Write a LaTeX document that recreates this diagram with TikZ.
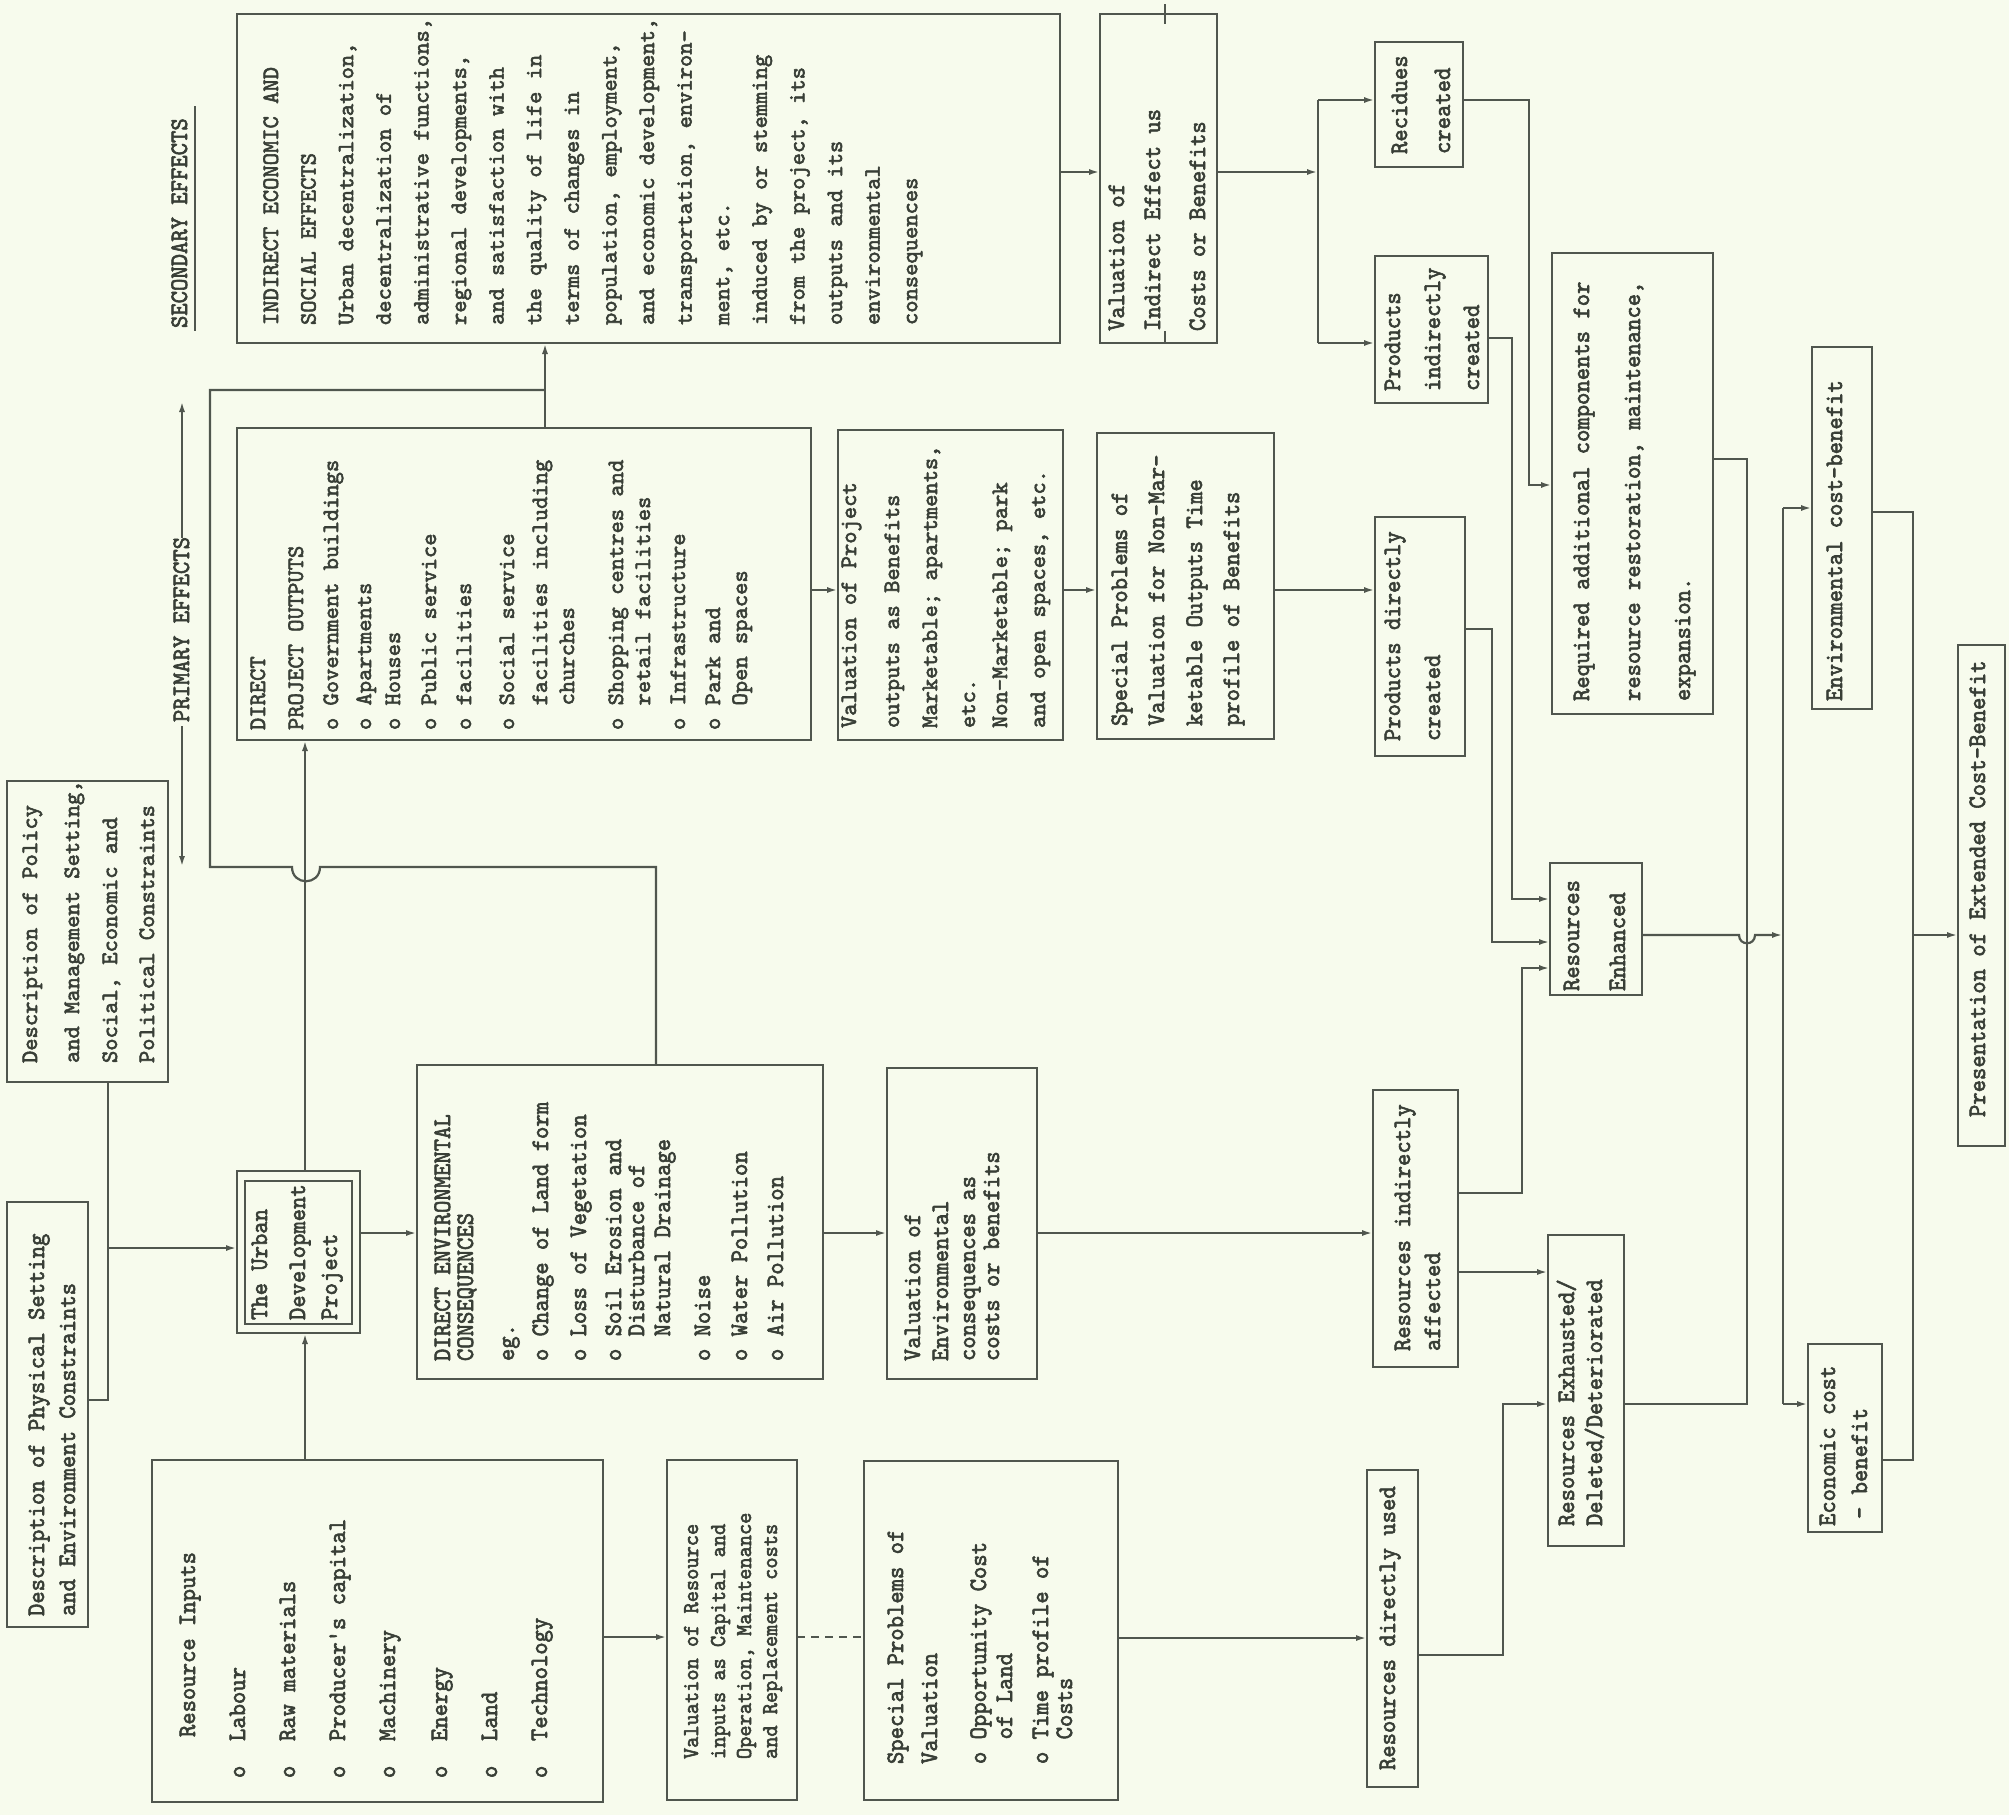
\documentclass[tikz,border=0pt]{standalone}
\usepackage{fontspec}
\usetikzlibrary{fit,arrows.meta,calc}
\newfontfamily\courf[FakeBold=2.4]{lmmono10-regular.otf}
\newfontfamily\condf[FakeStretch=0.94,FakeBold=2.4]{lmmono10-regular.otf}
\newcommand{\CF}{\courf\fontsize{23.4}{28}\selectfont}
\newcommand{\NF}{\condf\fontsize{25}{30}\selectfont}
\newcommand{\NFs}{\condf\fontsize{22.7}{27}\selectfont}
\definecolor{bgc}{RGB}{247,251,237}
\definecolor{ink}{RGB}{56,62,54}
\definecolor{lc}{RGB}{80,86,78}
\newcommand{\tl}[5]{\node[txt,font=#4] (#1) at ({#2+7},{#3}) {#5};}
\newcommand{\ind}{\hphantom{o\ }}
\begin{document}
\begin{tikzpicture}[x=1pt,y=-1pt,
  box/.style={draw=lc, line width=2.2pt, inner sep=0pt, outer sep=0pt, rectangle},
  txt/.style={rotate=90, anchor=base west, inner sep=0pt, outer sep=0pt, text=ink},
  wire/.style={draw=lc, line width=2.2pt},
  arr/.style={draw=lc, line width=2.2pt, -{Latex[length=11pt,width=6pt]}},
]
\fill[bgc] (0,0) rectangle (2009,1815);
\useasboundingbox (0,0) rectangle (2009,1815);

% ---------- boxes ----------
\node[box, fit={(7,781) (168,1082)}] (pol) {};
\node[box, fit={(7,1202) (88,1627)}] (phy) {};
\node[box, fit={(237,1171) (360,1333)}] (urb) {};
\node[box, fit={(245,1181) (352,1324)}] (urbin) {};
\node[box, fit={(152,1460) (603,1802)}] (res) {};
\node[box, fit={(667,1460) (797,1800)}] (valres) {};
\node[box, fit={(864,1461) (1118,1800)}] (spres) {};
\node[box, fit={(417,1065) (823,1379)}] (denv) {};
\node[box, fit={(887,1068) (1037,1379)}] (valenv) {};
\node[box, fit={(237,428) (811,740)}] (dpo) {};
\node[box, fit={(838,430) (1063,740)}] (valpo) {};
\node[box, fit={(1097,433) (1274,739)}] (spnm) {};
\node[box, fit={(237,14) (1060,343)}] (ind) {};
\node[box, fit={(1100,14) (1217,343)}] (valind) {};
\node[box, fit={(1375,42) (1463,167)}] (rec) {};
\node[box, fit={(1375,256) (1488,403)}] (pind) {};
\node[box, fit={(1375,517) (1465,756)}] (pdir) {};
\node[box, fit={(1373,1090) (1458,1367)}] (rind) {};
\node[box, fit={(1367,1470) (1418,1787)}] (rdir) {};
\node[box, fit={(1550,863) (1642,995)}] (renh) {};
\node[box, fit={(1548,1235) (1624,1546)}] (rexh) {};
\node[box, fit={(1552,253) (1713,714)}] (req) {};
\node[box, fit={(1812,347) (1872,709)}] (env) {};
\node[box, fit={(1808,1344) (1882,1532)}] (econ) {};
\node[box, fit={(1958,645) (2005,1146)}] (pres) {};

% ---------- texts ----------
\tl{sec}{180}{328}{\NF}{SECONDARY EFFECTS}
\draw[wire] (195,106) -- (195,331);
\tl{prim}{182}{722}{\NF}{PRIMARY EFFECTS}

\tl{pol1}{30}{1063}{\CF}{Description of Policy}
\tl{pol2}{72}{1063}{\CF}{and Management Setting,}
\tl{pol3}{110}{1063}{\CF}{Social, Economic and}
\tl{pol4}{147}{1063}{\CF}{Political Constraints}

\tl{phy1}{37}{1616}{\NF}{Description of Physical Setting}
\tl{phy2}{68}{1616}{\NF}{and Environment Constraints}

\tl{urb1}{260}{1320}{\NF}{The Urban}
\tl{urb2}{298}{1320}{\NF}{Development}
\tl{urb3}{330}{1320}{\NF}{Project}

\tl{res0}{188}{1737}{\NF}{Resource Inputs}
\tl{res1}{238}{1778}{\NF}{o\ \ Labour}
\tl{res2}{288}{1778}{\NF}{o\ \ Raw materials}
\tl{res3}{338}{1778}{\NF}{o\ \ Producer's capital}
\tl{res4}{388}{1778}{\NF}{o\ \ Machinery}
\tl{res5}{440}{1778}{\NF}{o\ \ Energy}
\tl{res6}{490}{1778}{\NF}{o\ \ Land}
\tl{res7}{540}{1778}{\NF}{o\ \ Technology}

\tl{vr1}{691}{1759}{\NFs}{Valuation of Resource}
\tl{vr2}{718}{1759}{\NFs}{inputs as Capital and}
\tl{vr3}{744}{1759}{\NFs}{Operation, Maintenance}
\tl{vr4}{770}{1759}{\NFs}{and Replacement costs}

\tl{sr1}{896}{1764}{\NF}{Special Problems of}
\tl{sr2}{930}{1764}{\NF}{Valuation}
\tl{sr3}{979}{1764}{\NF}{o Opportunity Cost}
\tl{sr4}{1005}{1764}{\NF}{\ind of Land}
\tl{sr5}{1041}{1764}{\NF}{o Time profile of}
\tl{sr6}{1065}{1764}{\NF}{\ind Costs}

\tl{de1}{443}{1361}{\NF}{DIRECT ENVIRONMENTAL}
\tl{de2}{466}{1361}{\NF}{CONSEQUENCES}
\tl{de3}{507}{1361}{\NF}{eg.}
\tl{de4}{541}{1361}{\NF}{o Change of Land form}
\tl{de5}{579}{1361}{\NF}{o Loss of Vegetation}
\tl{de6}{614}{1361}{\NF}{o Soil Erosion and}
\tl{de7}{637}{1361}{\NF}{\ind Disturbance of}
\tl{de8}{663}{1361}{\NF}{\ind Natural Drainage}
\tl{de9}{703}{1361}{\NF}{o Noise}
\tl{de10}{740}{1361}{\NF}{o Water Pollution}
\tl{de11}{776}{1361}{\NF}{o Air Pollution}

\tl{ve1}{913}{1361}{\NF}{Valuation of}
\tl{ve2}{941}{1361}{\NF}{Environmental}
\tl{ve3}{968}{1361}{\NF}{consequences as}
\tl{ve4}{992}{1361}{\NF}{costs or benefits}

\tl{dp1}{258}{730}{\CF}{DIRECT}
\tl{dp2}{296}{730}{\CF}{PROJECT OUTPUTS}
\tl{dp3}{331}{730}{\CF}{o Government buildings}
\tl{dp4}{364}{730}{\CF}{o Apartments}
\tl{dp5}{393}{730}{\CF}{o Houses}
\tl{dp6}{429}{730}{\CF}{o Public service}
\tl{dp7}{464}{730}{\CF}{o facilities}
\tl{dp8}{507}{730}{\CF}{o Social service}
\tl{dp9}{540}{730}{\CF}{\ind facilities including}
\tl{dp10}{567}{730}{\CF}{\ind churches}
\tl{dp11}{616}{730}{\CF}{o Shopping centres and}
\tl{dp12}{643}{730}{\CF}{\ind retail facilities}
\tl{dp13}{678}{730}{\CF}{o Infrastructure}
\tl{dp14}{713}{730}{\CF}{o Park and}
\tl{dp15}{740}{730}{\CF}{\ind Open spaces}

\tl{vp1}{849}{728}{\CF}{Valuation of Project}
\tl{vp2}{892}{728}{\CF}{outputs as Benefits}
\tl{vp3}{930}{728}{\CF}{Marketable; apartments,}
\tl{vp4}{968}{728}{\CF}{etc.}
\tl{vp5}{1000}{728}{\CF}{Non-Marketable; park}
\tl{vp6}{1038}{728}{\CF}{and open spaces, etc.}

\tl{sn1}{1120}{726}{\NF}{Special Problems of}
\tl{sn2}{1157}{726}{\NF}{Valuation for Non-Mar-}
\tl{sn3}{1195}{726}{\NF}{ketable Outputs Time}
\tl{sn4}{1232}{726}{\NF}{profile of Benefits}

\tl{in1}{271}{325}{\CF}{INDIRECT ECONOMIC AND}
\tl{in2}{308.6}{325}{\CF}{SOCIAL EFFECTS}
\tl{in3}{346.2}{325}{\CF}{Urban decentralization,}
\tl{in4}{383.8}{325}{\CF}{decentralization of}
\tl{in5}{421.4}{325}{\CF}{administrative functions,}
\tl{in6}{459}{325}{\CF}{regional developments,}
\tl{in7}{496.6}{325}{\CF}{and satisfaction with}
\tl{in8}{534.2}{325}{\CF}{the quality of life in}
\tl{in9}{571.8}{325}{\CF}{terms of changes in}
\tl{in10}{609.4}{325}{\CF}{population, employment,}
\tl{in11}{647}{325}{\CF}{and economic development,}
\tl{in12}{684.6}{325}{\CF}{transportation, environ-}
\tl{in13}{722.2}{325}{\CF}{ment, etc.}
\tl{in14}{759.8}{325}{\CF}{induced by or stemming}
\tl{in15}{797.4}{325}{\CF}{from the project, its}
\tl{in16}{835}{325}{\CF}{outputs and its}
\tl{in17}{872.6}{325}{\CF}{environmental}
\tl{in18}{910.2}{325}{\CF}{consequences}

\tl{vi1}{1117}{331}{\NF}{Valuation of}
\tl{vi2}{1153}{331}{\NF}{Indirect Effect us}
\tl{vi3}{1198}{331}{\NF}{Costs or Benefits}

\tl{rc1}{1400}{154}{\NF}{Recidues}
\tl{rc2}{1443}{154}{\NF}{created}
\tl{pi1}{1393}{391}{\NF}{Products}
\tl{pi2}{1433}{391}{\NF}{indirectly}
\tl{pi3}{1472}{391}{\NF}{created}
\tl{pd1}{1393}{741}{\NF}{Products directly}
\tl{pd2}{1433}{741}{\NF}{created}
\tl{ri1}{1403}{1351}{\NF}{Resources indirectly}
\tl{ri2}{1433}{1351}{\NF}{affected}
\tl{rd1}{1388}{1770}{\NF}{Resources directly used}
\tl{re1}{1572}{991}{\NF}{Resources}
\tl{re2}{1618}{991}{\NF}{Enhanced}
\tl{rx1}{1567}{1526}{\NF}{Resources Exhausted/}
\tl{rx2}{1595}{1526}{\NF}{Deleted/Deteriorated}
\tl{rq1}{1582}{701}{\NF}{Required additional components for}
\tl{rq2}{1633}{701}{\NF}{resource restoration, maintenance,}
\tl{rq3}{1683}{701}{\NF}{expansion.}
\tl{en1}{1835}{701}{\NF}{Environmental cost-benefit}
\tl{ec1}{1828}{1526}{\NF}{Economic cost}
\tl{ec2}{1860}{1519}{\NF}{- benefit}
\tl{pr1}{1978}{1117}{\NF}{Presentation of Extended Cost-Benefit}

% ---------- connectors ----------
\coordinate (pu1) at (182,538); \coordinate (pu2) at (182,401);
\coordinate (pd1) at (182,726); \coordinate (pd2) at (182,867);
\draw[arr] (pu1) -- (pu2);
\draw[arr] (pd1) -- (pd2);

\coordinate (j1) at (108,1248);
\draw[arr] (pol.south -| j1) -- (j1) -- (urb.west |- j1);
\draw[wire] (phy.east |- 0,1400) -| (j1);

\draw[arr] (res.north -| 305,0) -- (urb.south -| 305,0);
\draw[arr] (urb.north -| 305,0) -- (dpo.south -| 305,0);
\draw[arr] (urb.east |- 0,1233) -- (denv.west |- 0,1233);
\draw[arr] (denv.east |- 0,1233) -- (valenv.west |- 0,1233);
\draw[arr] (valenv.east |- 0,1233) -- (rind.west |- 0,1233);

\draw[wire] (denv.north -| 656,0) -- (656,867) -- (320,867)
  .. controls (320,886) and (292,886) .. (292,867) -- (210,867) -- (210,390) -- (545,390);
\draw[arr] (dpo.north -| 545,0) -- (ind.south -| 545,0);

\draw[arr] (res.east |- 0,1637) -- (valres.west |- 0,1637);
\draw[wire, dash pattern=on 8pt off 6pt] (valres.east |- 0,1637) -- (spres.west |- 0,1637);
\draw[arr] (spres.east |- 0,1638) -- (rdir.west |- 0,1638);

\draw[arr] (dpo.east |- 0,590) -- (valpo.west |- 0,590);
\draw[arr] (valpo.east |- 0,590) -- (spnm.west |- 0,590);
\draw[arr] (spnm.east |- 0,590) -- (pdir.west |- 0,590);

\draw[arr] (ind.east |- 0,172) -- (valind.west |- 0,172);
\coordinate (br) at (1318,172);
\draw[arr] (valind.east |- br) -- (br);
\draw[wire] (br |- 0,100) -- (br |- 0,343);
\draw[arr] (br |- 0,100) -- (rec.west |- 0,100);
\draw[arr] (br |- 0,343) -- (pind.west |- 0,343);
\draw[wire, line width=1.5pt] (1165,4) -- (1165,24);
\draw[wire, line width=1.5pt] (1165,331) -- (1165,343);

\draw[arr] (rec.east |- 0,100) -| (1529,485) -- (req.west |- 0,485);
\draw[arr] (pind.east |- 0,338) -| (1512,899) -- (renh.west |- 0,899);
\draw[arr] (pdir.east |- 0,629) -| (1492,942) -- (renh.west |- 0,942);
\draw[arr] (rind.east |- 0,1193) -| (1522,968) -- (renh.west |- 0,968);
\draw[arr] (rind.east |- 0,1272) -- (rexh.west |- 0,1272);
\draw[arr] (rdir.east |- 0,1655) -| (1503,1404) -- (rexh.west |- 0,1404);
\draw[wire] (req.east |- 0,459) -| (1747,1404) -- (rexh.east |- 0,1404);

\coordinate (bus1) at (1783,508); \coordinate (bus2) at (1783,1404);
\draw[arr] (renh.east |- 0,935) -- (1739,935)
  .. controls (1739,946) and (1755,946) .. (1755,935) -- (bus1 |- 0,935);
\draw[wire] (bus1) -- (bus2);
\draw[arr] (bus1) -- (env.west |- bus1);
\draw[arr] (bus2) -- (econ.west |- bus2);

\coordinate (rb) at (1913,935);
\draw[wire] (env.east |- 0,512) -| (rb |- 0,1460) -- (econ.east |- 0,1460);
\draw[arr] (rb) -- (pres.west |- rb);
\end{tikzpicture}
\end{document}
